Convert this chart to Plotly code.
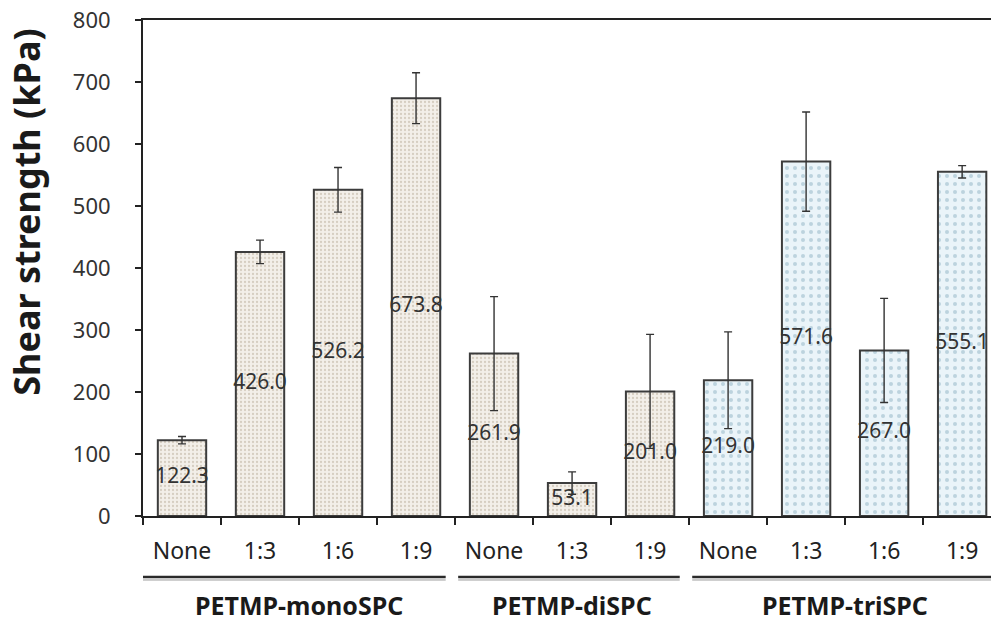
import plotly.graph_objects as go

groups = ["PETMP-monoSPC", "PETMP-diSPC", "PETMP-triSPC"]
group_sizes = [4, 3, 4]
ratios = ["None", "1:3", "1:6", "1:9", "None", "1:3", "1:9", "None", "1:3", "1:6", "1:9"]
strength = [122.3, 426.0, 526.2, 673.8, 261.9, 53.1, 201.0, 219.0, 571.6, 267.0, 555.1]
err = [6, 19, 36, 41, 92, 18, 92, 78, 80, 84, 10]
value_labels = ["122.3", "426.0", "526.2", "673.8", "261.9", "53.1", "201.0", "219.0", "571.6", "267.0", "555.1"]
y_ticks = [0, 100, 200, 300, 400, 500, 600, 700, 800]

x = list(range(len(ratios)))
group_of = []
for gi, n in enumerate(group_sizes):
    group_of += [gi] * n

styles = {
    "beige": dict(bg="#f3efe9", fg="#d6cec1", size=4, solidity=0.25),
    "blue": dict(bg="#eaf4f9", fg="#bcd3de", size=8, solidity=0.2),
}

fig = go.Figure()
for key, sel in (("beige", [0, 1]), ("blue", [2])):
    st = styles[key]
    xs = [xi for xi, g in zip(x, group_of) if g in sel]
    ys = [strength[xi] for xi in xs]
    fig.add_trace(go.Bar(
        x=xs, y=ys, width=0.62,
        marker=dict(color=st["bg"],
                    line=dict(color="#3c3c3c", width=2),
                    pattern=dict(shape=".", fgcolor=st["fg"], bgcolor=st["bg"],
                                 size=st["size"], solidity=st["solidity"],
                                 fillmode="replace")),
        showlegend=False, hoverinfo="skip",
    ))
fig.add_trace(go.Scatter(
    x=x, y=[v / 2 for v in strength], mode="text", text=value_labels,
    textfont=dict(family="Noto Sans", size=21, color="#333333"),
    showlegend=False, hoverinfo="skip", cliponaxis=True,
))
fig.add_trace(go.Scatter(
    x=x, y=strength, mode="markers", marker=dict(size=0.1, color="rgba(0,0,0,0)"),
    error_y=dict(type="data", array=err, color="#333333", thickness=1.4, width=4),
    showlegend=False, hoverinfo="skip", cliponaxis=False,
))

# group underlines and labels
shapes = []
annotations = []
start = 0
for gi, n in enumerate(group_sizes):
    lo = start - 0.5
    hi = start + n - 0.5
    x0 = lo + (0.0 if gi == 0 else 0.04)
    x1 = hi - 0.12
    if gi == 2:
        x1 = hi + 0.5
    shapes.append(dict(type="line", xref="x", yref="paper", x0=x0, x1=x1,
                       y0=-0.123, y1=-0.123, line=dict(color="#2a2a2a", width=2.5)))
    shapes.append(dict(type="line", xref="x", yref="paper", x0=x0, x1=x1,
                       y0=-0.129, y1=-0.129, line=dict(color="#9a9a9a", width=1)))
    annotations.append(dict(text="<b>%s</b>" % groups[gi], xref="x", yref="paper",
                            x=start + (n - 1) / 2, y=-0.18, showarrow=False,
                            yanchor="middle",
                            font=dict(family="Noto Sans", size=25, color="#1a1a1a")))
    start += n

annotations.append(dict(text="<b>Shear strength (kPa)</b>", xref="paper", yref="paper",
                        x=-0.137, y=0.613, textangle=-90, showarrow=False,
                        xanchor="center", yanchor="middle",
                        font=dict(family="Noto Sans", size=36, color="#1a1a1a")))

fig.update_layout(
    width=991, height=621,
    margin=dict(l=143, r=0, t=20, b=105),
    paper_bgcolor="white", plot_bgcolor="white",
    shapes=shapes, annotations=annotations,
    barmode="overlay",
)
fig.update_xaxes(
    range=[-0.5, 10.37], tickmode="array", tickvals=x, ticktext=ratios,
    ticks="", ticklen=0, showgrid=False, zeroline=False,
    showline=True, linecolor="#222222", linewidth=2, mirror=True,
    tickfont=dict(family="Noto Sans", size=23, color="#222222"),
    ticklabelstandoff=13,
    minor=dict(tick0=0.5, dtick=1, ticks="outside", ticklen=7, tickcolor="#222222",
               tickwidth=2, showgrid=False),
)
fig.update_yaxes(
    range=[0, 800], tickmode="array", tickvals=y_ticks,
    ticks="outside", ticklen=6, tickcolor="#222222", tickwidth=2,
    showgrid=False, zeroline=False, showline=True, linecolor="#222222", linewidth=2,
    tickfont=dict(family="Noto Sans", size=22, color="#333333"),
    ticklabelstandoff=20,
)
fig.write_html("out.html")
